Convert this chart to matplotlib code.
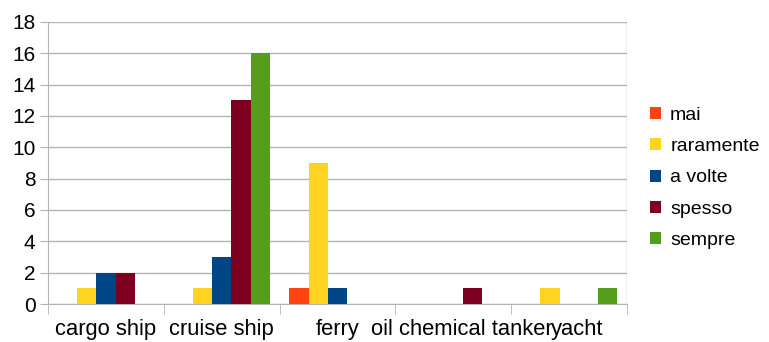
import numpy as np
import matplotlib
matplotlib.use('Agg')
import matplotlib.pyplot as plt
import matplotlib.transforms as mtransforms

categories = ['cargo ship', 'cruise ship', 'ferry', 'oil chemical tanker', 'yacht']
series_names = ['mai', 'raramente', 'a volte', 'spesso', 'sempre']
mai = [0, 0, 1, 0, 0]
raramente = [1, 1, 9, 0, 1]
a_volte = [2, 3, 1, 0, 0]
spesso = [2, 13, 0, 1, 0]
sempre = [0, 16, 0, 0, 1]
yticks = [0, 2, 4, 6, 8, 10, 12, 14, 16, 18]

colors = ['#ff420e', '#ffd320', '#004586', '#7e0021', '#579d1c']
values = [mai, raramente, a_volte, spesso, sempre]

plt.rcParams['font.family'] = ['Liberation Sans', 'DejaVu Sans']

fig = plt.figure(figsize=(7.69, 3.42), dpi=100)
ax = fig.add_axes([0.0624, 0.111, 0.753, 0.825])

x = np.arange(len(categories))
w = 0.166
for i, (name, vals) in enumerate(zip(series_names, values)):
    ax.bar(x - 2 * w + i * w, vals, width=w, color=colors[i], label=name, zorder=3)

ax.set_xlim(-0.5, len(categories) - 0.5)
ax.set_ylim(0, 18)
ax.set_yticks(yticks)
ax.tick_params(axis='y', labelsize=15, length=6, color='#b3b3b3', pad=3)
ax.set_xticks(x)
ax.set_xticklabels(categories, fontsize=15.8)
ax.tick_params(axis='x', which='major', length=0, pad=11)
ax.set_xticks(np.arange(len(categories) + 1) - 0.5, minor=True)
ax.tick_params(axis='x', which='minor', length=7, color='#b3b3b3')

# the last two labels sit a little to the right, as in the original
shift = mtransforms.ScaledTranslation(0.08, 0, fig.dpi_scale_trans)
for lab in ax.get_xticklabels()[3:]:
    lab.set_transform(lab.get_transform() + shift)

ax.grid(axis='y', color='#b3b3b3', linewidth=1, zorder=0)
for s in ['top', 'right']:
    ax.spines[s].set_visible(False)
ax.spines['left'].set_color('#b3b3b3')
ax.spines['bottom'].set_color('#b3b3b3')
ax.axvline(len(categories) - 0.5, color='#b3b3b3', linewidth=1, zorder=0)

ax.legend(loc='center left', bbox_to_anchor=(1.01, 0.447), frameon=False,
          fontsize=14, handlelength=0.57, handleheight=0.57, handletextpad=0.45,
          labelspacing=0.74)

fig.savefig('out.png', dpi=100)
